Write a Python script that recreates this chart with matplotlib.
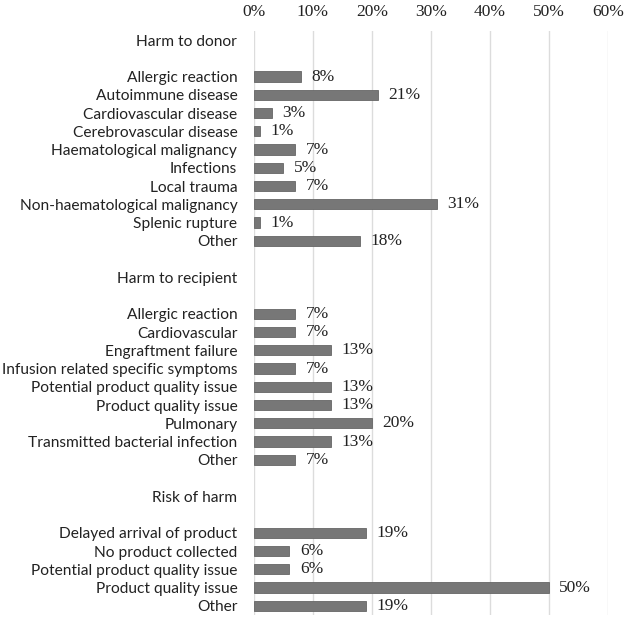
import matplotlib.pyplot as plt
import numpy as np

# groups: header, then items
donor_labels = ["Allergic reaction", "Autoimmune disease", "Cardiovascular disease",
                "Cerebrovascular disease", "Haematological malignancy", "Infections",
                "Local trauma", "Non-haematological malignancy", "Splenic rupture", "Other"]
donor_vals = [8, 21, 3, 1, 7, 5, 7, 31, 1, 18]

recip_labels = ["Allergic reaction", "Cardiovascular", "Engraftment failure",
                "Infusion related specific symptoms", "Potential product quality issue",
                "Product quality issue", "Pulmonary", "Transmitted bacterial infection", "Other"]
recip_vals = [7, 7, 13, 7, 13, 13, 20, 13, 7]

risk_labels = ["Delayed arrival of product", "No product collected",
               "Potential product quality issue", "Product quality issue", "Other"]
risk_vals = [19, 6, 6, 50, 19]

groups = [("Harm to donor", donor_labels, donor_vals),
          ("Harm to recipient", recip_labels, recip_vals),
          ("Risk of harm", risk_labels, risk_vals)]

# build the row list: header, blank, items, blank ...
labels = []
values = []
for i, (head, labs, vals) in enumerate(groups):
    if i > 0:
        labels.append("")
        values.append(np.nan)
    labels += [head, ""]
    values += [np.nan, np.nan]
    labels += labs
    values += vals

ypos = np.arange(len(labels))

fig = plt.figure(figsize=(6.24, 6.21), dpi=100)
ax = fig.add_axes([0.407, 0.0097, 0.567, 0.9405])

ax.barh(ypos, values, height=0.56, color="#777777", edgecolor="#666666", linewidth=0.6, zorder=3)

for y, v in zip(ypos, values):
    if not np.isnan(v):
        ax.text(v + 1.8, y, f"{v}%", va="center", ha="left",
                fontsize=12.5, family="Liberation Serif", color="#222222")

ax.set_ylim(len(labels) - 0.5, -0.5)
ax.set_xlim(0, 60)
ax.set_xticks(np.arange(0, 61, 10))
ax.set_xticklabels([f"{t}%" for t in range(0, 61, 10)], family="Liberation Serif",
                   fontsize=12.5, color="#222222")
ax.xaxis.tick_top()
ax.tick_params(axis="x", length=0, pad=8)
ax.set_yticks(ypos)
ax.set_yticklabels(labels, family="Lato", fontsize=11.2, color="#222222")
ax.tick_params(axis="y", length=0, pad=12)

ax.grid(axis="x", color="#dcdcdc", linewidth=1, zorder=0)
for s in ax.spines.values():
    s.set_visible(False)

fig.savefig("out.png", dpi=100)
